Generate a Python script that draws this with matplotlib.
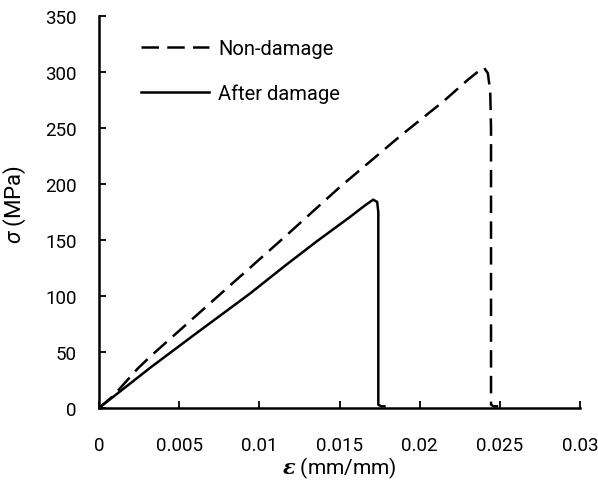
import matplotlib
matplotlib.use("Agg")
import matplotlib.pyplot as plt

# Data
strain_nd = [0.0, 0.0009, 0.0024, 0.0032, 0.0072, 0.0116, 0.0150, 0.0188, 0.0215, 0.0230, 0.0237, 0.0240, 0.02425, 0.0244, 0.02445, 0.02445, 0.02445, 0.0246, 0.0249]
stress_nd = [0.0, 11, 35, 46, 97, 153, 197, 243, 274, 293, 301, 304, 299, 283, 250, 100, 3, 1.5, 1.5]

strain_ad = [0.0, 0.0032, 0.0060, 0.0094, 0.0116, 0.0136, 0.0156, 0.0166, 0.0171, 0.01735, 0.01742, 0.01742, 0.01742, 0.0176, 0.0178]
stress_ad = [0.0, 36, 66, 102, 127, 149, 170, 181, 186, 184, 175, 100, 3, 1.5, 1.5]

xticks = [0, 0.005, 0.01, 0.015, 0.02, 0.025, 0.03]
xticklabels = ["0", "0.005", "0.01", "0.015", "0.02", "0.025", "0.03"]
yticks = [0, 50, 100, 150, 200, 250, 300, 350]

fam = "Roboto"
plt.rcParams['font.family'] = [fam, 'DejaVu Sans']
plt.rcParams['mathtext.fontset'] = 'custom'
plt.rcParams['mathtext.it'] = 'Roboto:italic'
plt.rcParams['mathtext.bf'] = 'DejaVu Serif:italic:bold'
plt.rcParams['mathtext.rm'] = fam

fig = plt.figure(figsize=(5.98, 4.81), dpi=100)
ax = fig.add_axes([99/598, 1-409/481, (580-99)/598, (409-17)/481])

ax.plot(strain_nd, stress_nd, color='black', lw=1.8, linestyle=(0, (7, 3.3)), label='Non-damage')
ax.plot(strain_ad, stress_ad, color='black', lw=1.8, linestyle='-', label='After damage')

ax.set_xlim(0, 0.03)
ax.set_ylim(0, 350)
ax.set_xticks(xticks)
ax.set_xticklabels(xticklabels)
ax.set_yticks(yticks)
for s in ['top', 'right']:
    ax.spines[s].set_visible(False)
for s in ['left', 'bottom']:
    ax.spines[s].set_linewidth(1.8)
ax.tick_params(axis='both', direction='in', length=5, width=1.3, labelsize=13.5)
ax.tick_params(axis='x', pad=20)
ax.tick_params(axis='y', pad=16)

ax.set_xlabel(r'$\mathbf{\varepsilon}$ (mm/mm)', fontsize=15, labelpad=0)
ax.set_ylabel(r'$\sigma$ (MPa)', fontsize=16, labelpad=4)
ax.xaxis.set_label_coords(0.5, -0.12)
ax.yaxis.set_label_coords(-0.148, 0.523)

leg = ax.legend(loc='upper left', bbox_to_anchor=(0.0696, 0.962), frameon=False, fontsize=14.5,
                handlelength=3.4, handletextpad=0.45, labelspacing=1.25, borderaxespad=0)

fig.savefig('out.png', dpi=100)
